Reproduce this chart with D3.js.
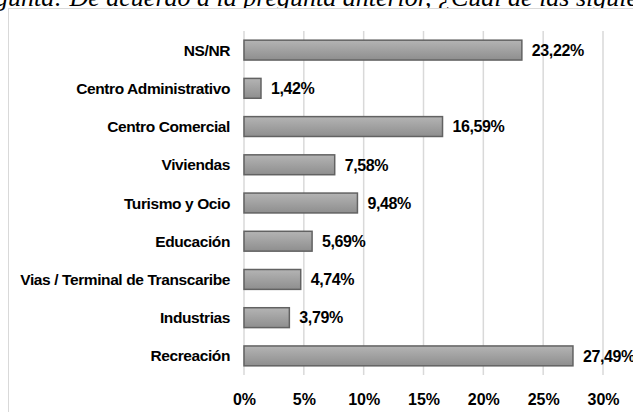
<!DOCTYPE html>
<html>
<head>
<meta charset="utf-8">
<script src="https://cdn.jsdelivr.net/npm/d3@7"></script>
<style>
    body { margin: 0; background: #fff; }
    svg { display: block; }
</style>
</head>
<body>
<div class="chart"></div>
<script>
var categories = ["NS/NR", "Centro Administrativo", "Centro Comercial", "Viviendas", "Turismo y Ocio",
                  "Educación", "Vias / Terminal de Transcaribe", "Industrias", "Recreación"];
var values = [23.22, 1.42, 16.59, 7.58, 9.48, 5.69, 4.74, 3.79, 27.49];
var ticks = [0, 5, 10, 15, 20, 25, 30];
var titleLead = "Pregunta: ";
var title = "De acuerdo a la pregunta anterior, ¿Cuál de las siguientes opciones";

function barChart(){
    var w = 633;
    var h = 412;

    var xScale = d3.scaleLinear()
                    .domain([0, 30])
                    .range([244, 603]);

    var yScale = d3.scaleBand()
                    .domain(categories)
                    .range([31, 375])
                    .paddingInner(0.48)
                    .paddingOuter(0.24);

    var svg = d3.select(".chart")
                .append("svg")
                .attr("width", w)
                .attr("height", h);

    var grad = svg.append("defs")
                .append("linearGradient")
                .attr("id", "barGrad")
                .attr("x1", 0).attr("y1", 0)
                .attr("x2", 0).attr("y2", 1);
    grad.append("stop").attr("offset", "0%").attr("stop-color", "#b4b4b4");
    grad.append("stop").attr("offset", "100%").attr("stop-color", "#8e8e8e");

    //caption of the page, cut off by the top edge like in the scan
    var pre = svg.append("text")
        .attr("font-family", "Liberation Serif")
        .attr("font-style", "italic")
        .attr("font-size", "26px")
        .text(titleLead);
    var off = pre.node().getComputedTextLength();
    pre.remove();
    svg.append("text")
        .attr("x", 63 - off)
        .attr("y", 6)
        .attr("font-family", "Liberation Serif")
        .attr("font-style", "italic")
        .attr("font-size", "26px")
        .attr("fill", "#000")
        .text(titleLead + title);

    //chart border
    svg.append("rect")
        .attr("x", 8.5)
        .attr("y", 8.5)
        .attr("width", 640)
        .attr("height", 420)
        .attr("fill", "#fff")
        .attr("stroke", "#d9d9d9")
        .attr("stroke-width", 1);

    //vertical gridlines
    svg.selectAll(".grid")
        .data(ticks)
        .enter()
        .append("line")
        .attr("class", "grid")
        .attr("x1", function(d){ return xScale(d); })
        .attr("x2", function(d){ return xScale(d); })
        .attr("y1", yScale.range()[0])
        .attr("y2", yScale.range()[1])
        .attr("stroke", "#d9d9d9")
        .attr("stroke-width", 1.5);

    svg.selectAll(".bar")
        .data(values)
        .enter()
        .append("rect")
        .attr("class", "bar")
        .attr("x", xScale(0))
        .attr("y", function(d, i){ return yScale(categories[i]); })
        .attr("width", function(d){ return xScale(d) - xScale(0); })
        .attr("height", yScale.bandwidth())
        .attr("fill", "url(#barGrad)")
        .attr("stroke", "#626262")
        .attr("stroke-width", 1.5);

    svg.selectAll(".val")
        .data(values)
        .enter()
        .append("text")
        .attr("class", "val")
        .attr("x", function(d){ return xScale(d) + 10; })
        .attr("y", function(d, i){ return yScale(categories[i]) + yScale.bandwidth()/2; })
        .attr("dy", "0.36em")
        .attr("font-family", "Liberation Sans")
        .attr("font-weight", "bold")
        .attr("font-size", "16px")
        .attr("letter-spacing", "-0.4px")
        .attr("fill", "#000")
        .text(function(d){ return d.toFixed(2).replace(".", ",") + "%"; });

    //category labels
    var yAxis = d3.axisLeft(yScale).tickSize(0).tickPadding(0);
    var gy = svg.append("g")
        .attr("transform", "translate(230,0)")
        .call(yAxis);
    gy.select(".domain").remove();
    gy.selectAll("text")
        .attr("dy", "0.36em")
        .style("font-family", "Liberation Sans")
        .style("font-weight", "bold")
        .style("font-size", "15.5px")
        .style("letter-spacing", "-0.4px")
        .style("fill", "#000");

    var xAxis = d3.axisBottom(xScale)
                .tickValues(ticks)
                .tickSize(0)
                .tickPadding(0)
                .tickFormat(function(d){ return d + "%"; });
    var gx = svg.append("g")
        .attr("transform", "translate(0,394)")
        .call(xAxis);
    gx.select(".domain").remove();
    gx.selectAll("text")
        .attr("dy", "0.71em")
        .style("font-family", "Liberation Sans")
        .style("font-weight", "bold")
        .style("font-size", "16px")
        .style("fill", "#000");
}

barChart();
</script>
</body>
</html>
